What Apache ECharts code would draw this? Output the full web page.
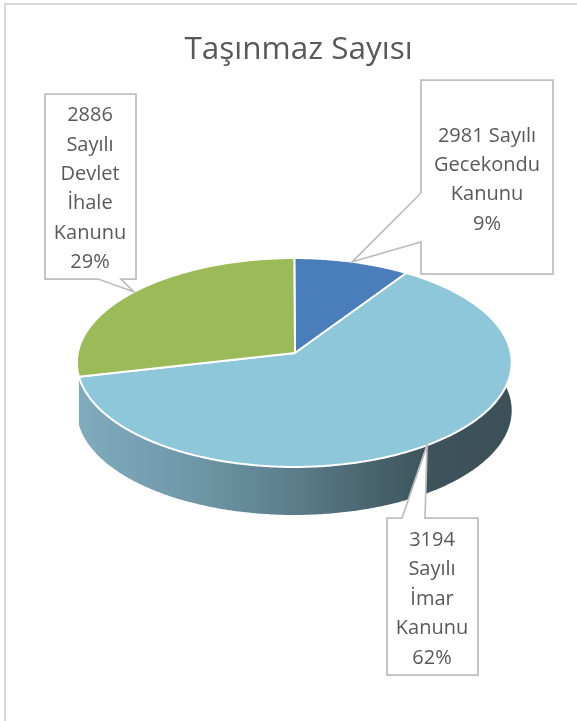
<!DOCTYPE html>
<html><head><meta charset="utf-8">
<style>html,body{margin:0;padding:0;background:#fff}#c{width:577px;height:721px}</style>
<script src="https://cdn.jsdelivr.net/npm/echarts@6/dist/echarts.min.js"></script>
</head><body><div id="c"></div>
<script>
const titleText = 'Taşınmaz Sayısı';
const categories = ['2981 Sayılı\nGecekondu\nKanunu', '3194\nSayılı\nİmar\nKanunu', '2886\nSayılı\nDevlet\nİhale\nKanunu'];
const values = [9.4, 62.0, 28.6];
const sliceColors = ['#4A7EBB', '#8EC7D9', '#9BBB59'];

const FONT = '"Open Sans", Lato, sans-serif';
const TEXT = '#595959', BORDER = '#BFBFBF';
const apex = {x: 295, y: 353};
const A = 216.5, B = 103.6, K = -0.0909, DEPTH = 48, RIM_X = 294.3;
const total = values.reduce((s, v) => s + v, 0);
const rim = t => {
  const u = Math.sin(t), v = -Math.cos(t), w = 1 + K * v;
  return [RIM_X + A * u / w, apex.y + B * v / w];
};
const arcAngle = i => values.slice(0, i).reduce((s, v) => s + v, 0) / total * Math.PI * 2;
const arc = (a, b) => {
  const n = Math.max(8, Math.ceil((b - a) / 0.01)), pts = [];
  for (let i = 0; i <= n; i++) pts.push(rim(a + (b - a) * i / n));
  return pts;
};
// callout boxes: [x0, y0, x1, y1], tail base side and positions, text centre
const boxes = [
  {r: [421, 80, 553, 274], side: 'left', base: [193, 242], tx: 487, ty: 180},
  {r: [387, 518, 478, 675], side: 'top', base: [402, 425], tx: 432, ty: 599},
  {r: [45, 94, 136, 279], side: 'bottom', base: [98, 121], tx: 90, ty: 189}
];
const calloutPoints = (b, tip) => {
  const [x0, y0, x1, y1] = b.r, [p, q] = b.base;
  if (b.side === 'left') return [[x0, y0], [x1, y0], [x1, y1], [x0, y1], [x0, q], tip, [x0, p]];
  if (b.side === 'top') return [[x0, y0], [p, y0], tip, [q, y0], [x1, y0], [x1, y1], [x0, y1]];
  return [[x0, y0], [x1, y0], [x1, y1], [q, y1], tip, [p, y1], [x0, y1]];
};
const rows = values.map((v, i) => [i, v]);
const frameStyle = {stroke: '#D9D9D9', lineWidth: 2};

const chart = echarts.init(document.getElementById('c'), null, {renderer: 'canvas'});
chart.setOption({
  animation: false,
  backgroundColor: '#fff',
  title: {
    text: titleText, left: 293.5, top: 29, textAlign: 'center',
    textStyle: {fontFamily: FONT, fontSize: 31.5, fontWeight: 'normal', color: TEXT}
  },
  graphic: [
    {type: 'line', silent: true, shape: {x1: 5, y1: 3, x2: 5, y2: 721}, style: frameStyle},
    {type: 'line', silent: true, shape: {x1: 4, y1: 4, x2: 577, y2: 4}, style: frameStyle}
  ],
  series: [
    {
      type: 'custom', coordinateSystem: 'none', z: 2, data: [rows[1]],
      renderItem: (p, api) => {
        const i = api.value(0);
        const top = arc(arcAngle(i), arcAngle(i + 1));
        const pts = top.concat(top.slice().reverse().map(q => [q[0], q[1] + DEPTH]));
        return {
          type: 'polygon', shape: {points: pts},
          style: {
            fill: new echarts.graphic.LinearGradient(80, 0, 510, 0, [
              {offset: 0, color: '#7FABBD'}, {offset: 0.25, color: '#6F99A9'},
              {offset: 0.5, color: '#5C7D8A'}, {offset: 0.72, color: '#445E68'},
              {offset: 0.82, color: '#3D5359'}, {offset: 1, color: '#3C5157'}
            ], true)
          }
        };
      }
    },
    {
      type: 'custom', coordinateSystem: 'none', z: 3, data: rows,
      renderItem: (p, api) => {
        const i = api.value(0);
        const pts = [[apex.x, apex.y]].concat(arc(arcAngle(i), arcAngle(i + 1)));
        return {
          type: 'polygon', shape: {points: pts},
          style: {fill: sliceColors[i], stroke: '#fff', lineWidth: 2, lineJoin: 'round'}
        };
      }
    },
    {
      type: 'custom', coordinateSystem: 'none', z: 4, data: rows,
      renderItem: (p, api) => {
        const i = api.value(0), b = boxes[i];
        const tip = rim((arcAngle(i) + arcAngle(i + 1)) / 2);
        const pct = Math.round(api.value(1) / total * 100);
        return {
          type: 'group',
          children: [
            {type: 'polygon', shape: {points: calloutPoints(b, tip)},
             style: {fill: '#fff', stroke: BORDER, lineWidth: 1.75}},
            {type: 'text', z2: 5,
             style: {
               text: categories[i] + '\n' + pct + '%', x: b.tx, y: b.ty,
               align: 'center', verticalAlign: 'middle',
               fontFamily: FONT, fontSize: 20, lineHeight: 29.4, fill: TEXT
             }}
          ]
        };
      }
    }
  ]
});
</script></body></html>
